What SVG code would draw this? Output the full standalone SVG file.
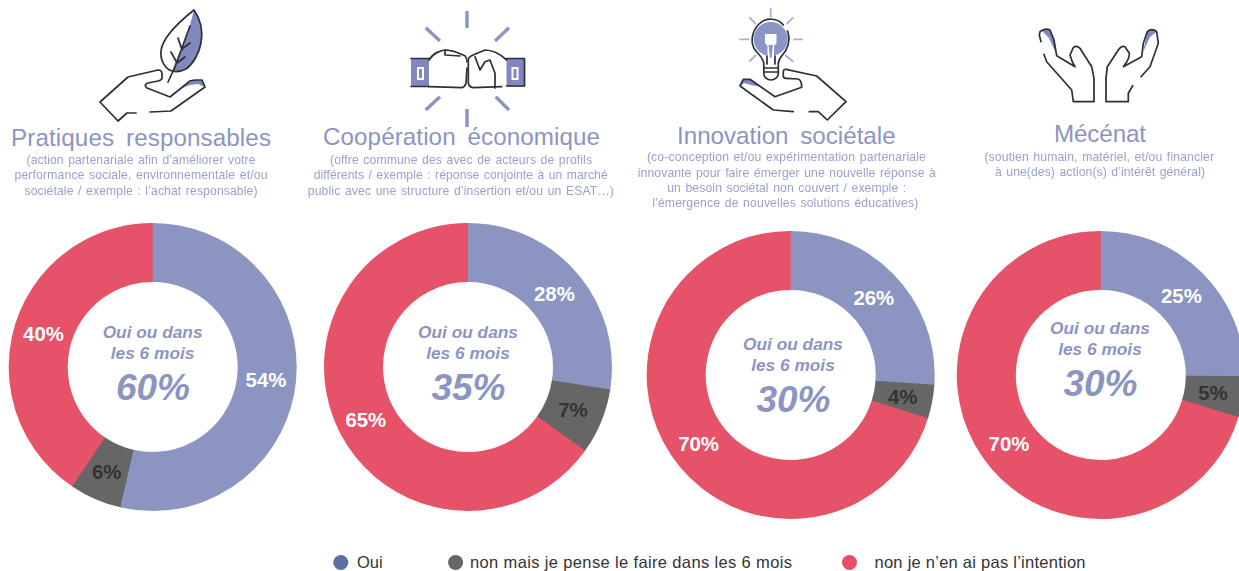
<svg xmlns="http://www.w3.org/2000/svg" width="1239" height="571" viewBox="0 0 1239 571">
<defs>
<filter id="soft" x="-5%" y="-5%" width="110%" height="110%"><feGaussianBlur stdDeviation="0.5"/></filter>
<filter id="softer" x="-5%" y="-5%" width="110%" height="110%"><feGaussianBlur stdDeviation="0.35"/></filter>
</defs>
<style>
text{font-family:"Liberation Sans",Arial,sans-serif;text-anchor:middle}
.ring{fill:none;stroke-width:59}
.blue{stroke:#8c95c2}.gray{stroke:#666666}.red{stroke:#e65268}
.title{font-size:24.2px;fill:#8c95c2;word-spacing:5px}
.sub{font-size:12.2px;fill:#9aa1ca;word-spacing:1px}
.mid{font-size:17.3px;font-weight:bold;font-style:italic;fill:#8c95c2}
.big{font-size:37px;font-weight:bold;font-style:italic;fill:#8c95c2}
.pct{font-size:20.4px;font-weight:bold;fill:#fff}
.pctd{font-size:20.4px;font-weight:bold;fill:#333}
.leg{font-size:16.500px;fill:#333;text-anchor:start}
.ink{fill:none;stroke:#2b3038;stroke-width:1.7;stroke-linejoin:round;stroke-linecap:round}
.ray{fill:none;stroke:#8c95c2;stroke-width:3.4}
.ray2{fill:none;stroke:#a9aed3;stroke-width:1.8}
.tint{fill:#8288bd}
</style>

<g id="icon-leaf" filter="url(#soft)">
<path class="tint" d="M194 10C201 20 203 32 201 43C199 54 193 64 186 69C180 72 175 72 172 71L176 61L183 45L190 25Z"/>
<path class="tint" d="M182 88L193 80L202 80L205 87L198 84L190 85Z"/>
<path class="ink" d="M194 10C201 20 203 32 201 43C199 54 193 64 186 69C180 72 175 72 172 71C165 69 160 60 161 51C162 41 170 29 194 10Z"/>
<path class="ink" d="M168 82L175 67L183 45L190 26M171 52L177 63M178 38L182 50M190 43L182 49M185 57L177 63"/>
<path class="ink" d="M136 113L127 113L118 121L100 102L128 77L158 70Q162 70 162 74V78Q162 80 158 81L148 83Q143 85 147 88L170 97L190 81Q193 80 196 80L202 80L205 87L171 111L150 112"/>
</g>

<g id="icon-fists" filter="url(#soft)">
<path class="ray" d="M467 11V28M467 109V127M425.700 27.700L440 41M509 27.700L495 41M425.700 110L440 96.700M509 110L495.700 96.700"/>
<rect x="411" y="58.500" width="18" height="28" fill="#8288bd"/>
<rect x="418" y="68" width="5" height="11" fill="#8288bd" stroke="#fff" stroke-width="2"/>
<rect x="506.500" y="58.500" width="18" height="28" rx="2" fill="#8288bd"/>
<rect x="512.500" y="68" width="5" height="11" fill="#8288bd" stroke="#fff" stroke-width="2"/>
<path class="ink" d="M429 58.500H411M411 86.500H429M506.500 86H524.500V58.500H506.500"/>
<path class="ink" d="M429 60C433 53 441 50 447 50L455 51.700L465 55.700Q467 58 467 61.700M467 68L466 83.300Q465 87 461.700 87.700L429 86.700"/>
<path class="ink" d="M445 50V55L460 56"/>
<path class="ink" d="M506.700 60C498 52 490 50 485 50L473 55Q468.300 57 468.300 60V83Q469 87 473 87.700L501.700 86.700"/>
<path class="ink" d="M475 56.700L480 70L485 61.700L490 60L495 73.300V88"/>
</g>

<g id="icon-bulb" filter="url(#soft)">
<path class="ray2" d="M770.700 8.300V17.300M739.300 39.300H749.300M793.300 39.300H802.700M749.300 17.300L756 24M793.300 17.300L786.700 24M749.300 61.700L756 55M793.300 61.700L785 55"/>
<circle cx="770.700" cy="39" r="17" fill="#8c95c6"/>
<path d="M765 34H776.500V43L774 46V56H767.500V46L765 43Z" fill="#fff"/>
<path d="M768.500 45H773L771.500 58H770Z" fill="#8c95c6"/>
<path class="ink" d="M783.300 25C778 18 766 17 759 24C751 32 750 44 756 51C760 56 763.500 58 763.800 64V74C764 77 767 80 771 80C775 80 778 77 778.300 74V64C778.500 58 782 56 785.500 51C789 45 790 38 787.500 31M764 68H778M764 72H778"/>
<path class="ink" d="M767 64V56M775 64V56"/>
<path class="tint" d="M740 86L743.300 79.300L750 79.300L762 87L751 85L744 83Z"/>
<path class="ink" d="M809.300 111.700H818.300L827.300 120L846 101.700L816.700 76L786 69.300Q783.300 69 783.300 72V76Q783.300 78.300 786 78.300L798 79Q801.700 80 801.700 87.300L775 96.700L750 79.300H743.300L740 86L773.300 110L793.300 111.700"/>
</g>

<g id="icon-hands" filter="url(#soft)">
<path class="tint" d="M1041 30Q1046 27.700 1050 30L1054 40L1056.700 55L1049 38Z"/>
<path class="tint" d="M1147.300 31.700Q1151.700 27.700 1156.700 31.700L1150 37L1143 52Z"/>
<path class="ink" d="M1044 54.300L1046.700 61.700L1071.700 90L1073.300 101.700H1094V78.300L1091.700 66.700L1080 48.300Q1076.700 45 1073.300 47.700L1070 55Q1071.700 61.700 1075 66.700L1056.700 55.700L1054 40L1050 30Q1045 27.700 1040 31.700L1039.300 35L1041 41.700"/>
<path class="ink" d="M1132.700 85.700L1128.300 93.300V101.700H1106V78.300L1107.300 66.700L1118.300 50Q1121.700 45 1125 46.700L1129.300 53.300Q1130 58.300 1123.300 66.700L1141.700 56.700L1143.300 43.300L1147.300 31.700Q1151.700 27.700 1156.700 31.700L1158.300 43.300L1150 66.700L1141 76.700"/>
</g>

<g id="node-pratiques">
<text class="title" x="141" y="146" textLength="260">Pratiques responsables</text>
<g filter="url(#softer)">
<text class="sub" x="141" y="163.500" textLength="229">(action partenariale afin d’améliorer votre</text>
<text class="sub" x="141" y="179" textLength="253">performance sociale, environnementale et/ou</text>
<text class="sub" x="141" y="194.500" textLength="233">sociétale / exemple : l’achat responsable)</text>
</g>
<circle class="ring red" cx="152.700" cy="367" r="114.500" pathLength="360" stroke-dasharray="147 360" transform="rotate(123.500 152.700 367)"/>
<circle class="ring gray" cx="152.700" cy="367" r="114.500" pathLength="360" stroke-dasharray="21.500 360" transform="rotate(102.500 152.700 367)"/>
<circle class="ring blue" cx="152.700" cy="367" r="114.500" pathLength="360" stroke-dasharray="193 360" transform="rotate(-90 152.700 367)"/>
<text class="pct" x="266" y="387">54%</text>
<text class="pct" x="43.500" y="341">40%</text>
<text class="pctd" x="106.700" y="479">6%</text>
<text class="mid" x="152.600" y="338">Oui ou dans</text>
<text class="mid" x="152.600" y="359">les 6 mois</text>
<text class="big" x="153" y="400">60%</text>
</g>

<g id="node-cooperation">
<text class="title" x="461.500" y="145" textLength="277">Coopération économique</text>
<g filter="url(#softer)">
<text class="sub" x="461" y="163.500" textLength="262">(offre commune des avec de acteurs de profils</text>
<text class="sub" x="460.700" y="179" textLength="294">différents / exemple : réponse conjointe à un marché</text>
<text class="sub" x="460.800" y="194.500" textLength="306">public avec une structure d’insertion et/ou un ESAT…)</text>
</g>
<circle class="ring red" cx="468" cy="367" r="114.500" pathLength="360" stroke-dasharray="235.500 360" transform="rotate(35 468 367)"/>
<circle class="ring gray" cx="468" cy="367" r="114.500" pathLength="360" stroke-dasharray="27 360" transform="rotate(8.500 468 367)"/>
<circle class="ring blue" cx="468" cy="367" r="114.500" pathLength="360" stroke-dasharray="99 360" transform="rotate(-90 468 367)"/>
<text class="pct" x="554.400" y="301">28%</text>
<text class="pctd" x="573" y="417">7%</text>
<text class="pct" x="365.800" y="427">65%</text>
<text class="mid" x="468" y="338">Oui ou dans</text>
<text class="mid" x="468" y="359">les 6 mois</text>
<text class="big" x="468.500" y="400">35%</text>
</g>

<g id="node-innovation">
<text class="title" x="786.300" y="144" textLength="218.600">Innovation sociétale</text>
<g filter="url(#softer)">
<text class="sub" x="786.400" y="161.300" textLength="279">(co-conception et/ou expérimentation partenariale</text>
<text class="sub" x="786.800" y="176.700" textLength="298">innovante pour faire émerger une nouvelle réponse à</text>
<text class="sub" x="786.700" y="192.300" textLength="239">un besoin sociétal non couvert / exemple :</text>
<text class="sub" x="785.200" y="207.300" textLength="266">l’émergence de nouvelles solutions éducatives)</text>
</g>
<circle class="ring red" cx="790.700" cy="375" r="114.500" pathLength="360" stroke-dasharray="253.500 360" transform="rotate(17 790.700 375)"/>
<circle class="ring gray" cx="790.700" cy="375" r="114.500" pathLength="360" stroke-dasharray="14 360" transform="rotate(3.500 790.700 375)"/>
<circle class="ring blue" cx="790.700" cy="375" r="114.500" pathLength="360" stroke-dasharray="94 360" transform="rotate(-90 790.700 375)"/>
<text class="pct" x="873.800" y="305">26%</text>
<text class="pctd" x="902.700" y="404">4%</text>
<text class="pct" x="698.600" y="451">70%</text>
<text class="mid" x="793" y="349.500">Oui ou dans</text>
<text class="mid" x="793" y="370.700">les 6 mois</text>
<text class="big" x="793.500" y="412">30%</text>
</g>

<g id="node-mecenat">
<text class="title" x="1100" y="142" textLength="92">Mécénat</text>
<g filter="url(#softer)">
<text class="sub" x="1099.200" y="160.700" textLength="229.600">(soutien humain, matériel, et/ou financier</text>
<text class="sub" x="1100" y="175.700" textLength="210">à une(des) action(s) d’intérêt général)</text>
</g>
<circle class="ring red" cx="1100.800" cy="375" r="114.500" pathLength="360" stroke-dasharray="254 360" transform="rotate(16.500 1100.800 375)"/>
<circle class="ring gray" cx="1100.800" cy="375" r="114.500" pathLength="360" stroke-dasharray="17 360" transform="rotate(0 1100.800 375)"/>
<circle class="ring blue" cx="1100.800" cy="375" r="114.500" pathLength="360" stroke-dasharray="90.500 360" transform="rotate(-90 1100.800 375)"/>
<text class="pct" x="1181.400" y="302.700">25%</text>
<text class="pctd" x="1213" y="400">5%</text>
<text class="pct" x="1009" y="451">70%</text>
<text class="mid" x="1100" y="334">Oui ou dans</text>
<text class="mid" x="1100" y="355.300">les 6 mois</text>
<text class="big" x="1100.500" y="396">30%</text>
</g>

<g id="legend">
<circle cx="340.800" cy="562.500" r="7.500" fill="#5c6fa0"/>
<text class="leg" x="357" y="568">Oui</text>
<circle cx="455.600" cy="562.500" r="7.500" fill="#666666"/>
<text class="leg" x="470" y="568" textLength="322">non mais je pense le faire dans les 6 mois</text>
<circle cx="849.500" cy="562.500" r="7.500" fill="#e8506a"/>
<text class="leg" x="874.500" y="568" textLength="211">non je n’en ai pas l’intention</text>
</g>
<g id="connectors"/>
</svg>
